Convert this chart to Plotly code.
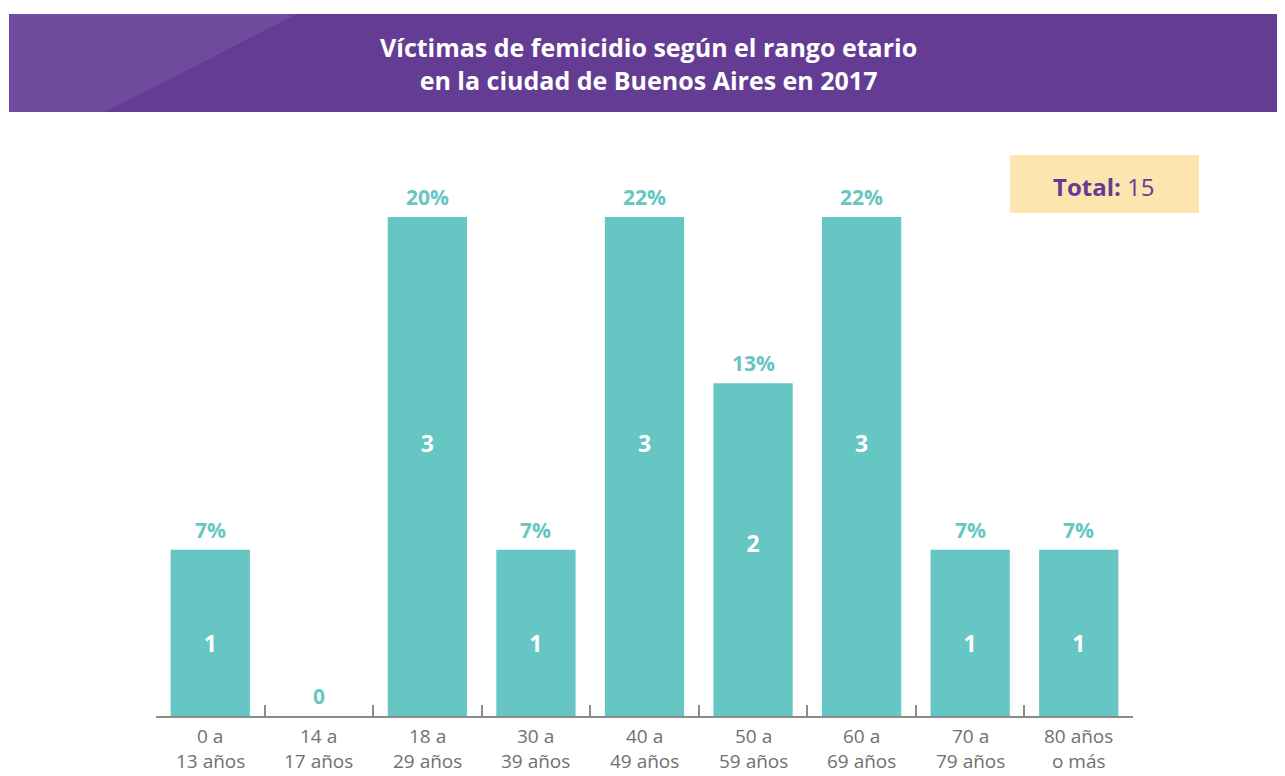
import plotly.graph_objects as go

categories = ["0-13", "14-17", "18-29", "30-39", "40-49", "50-59", "60-69", "70-79", "80+"]
label_line1 = ["0 a", "14 a", "18 a", "30 a", "40 a", "50 a", "60 a", "70 a", "80 años"]
label_line2 = ["13 años", "17 años", "29 años", "39 años", "49 años", "59 años", "69 años", "79 años", "o más"]
victims = [1, 0, 3, 1, 3, 2, 3, 1, 1]
pct_labels = ["7%", "0", "20%", "7%", "22%", "13%", "22%", "7%", "7%"]
total = 15

TEAL = "#66C6C3"
PURPLE = "#643C94"
PURPLE_LIGHT = "#6E4B9D"
GREY = "#707070"
AXIS = "#8C8C8C"
FONT = "Open Sans"

# the page body adds an 8px margin; compensate so the figure fills the window
OFF = 8
W, H = 1285 - OFF, 776 - OFF
ML, MR, MT, MB = 156 - OFF, 152, 150 - OFF, 60
PW, PH = W - ML - MR, H - MT - MB


def px(x):
    return (x - OFF - ML) / PW


def py(y):
    return 1 - (y - OFF - MT) / PH


fig = go.Figure()

fig.add_trace(go.Bar(
    x=categories, y=victims, marker=dict(color=TEAL, line=dict(width=0)),
    hoverinfo="skip", showlegend=False,
))

# numbers inside bars
inside_x = [c for c, v in zip(categories, victims) if v > 0]
inside_y = [v * 0.6 - 0.18 for v in victims if v > 0]
inside_t = [str(v) for v in victims if v > 0]
fig.add_trace(go.Scatter(
    x=inside_x, y=inside_y, text=inside_t, mode="text",
    textfont=dict(family=FONT, size=23, color="white", weight="bold"),
    hoverinfo="skip", showlegend=False,
))

# percentages above bars
for c, v, t in zip(categories, victims, pct_labels):
    fig.add_annotation(x=c, y=v, xref="x", yref="y", text=f"<b>{t}</b>", showarrow=False,
                       yanchor="middle", xanchor="center", yshift=20,
                       font=dict(family=FONT, size=21, color=TEAL))

# category labels (two lines)
for c, l1, l2 in zip(categories, label_line1, label_line2):
    fig.add_annotation(x=c, y=0, xref="x", yref="paper", text=l1, showarrow=False,
                       yanchor="middle", xanchor="center", yshift=-20,
                       font=dict(family=FONT, size=19, color=GREY))
    fig.add_annotation(x=c, y=0, xref="x", yref="paper", text=l2, showarrow=False,
                       yanchor="middle", xanchor="center", yshift=-45,
                       font=dict(family=FONT, size=19, color=GREY))

# banner
fig.add_shape(type="rect", xref="paper", yref="paper", x0=px(9), x1=px(1300), y0=py(112), y1=py(14),
              fillcolor=PURPLE, line=dict(width=0), layer="below")
fig.add_shape(type="path", xref="paper", yref="paper",
              path=f"M {px(9)} {py(14)} L {px(297)} {py(14)} L {px(105)} {py(112)} L {px(9)} {py(112)} Z",
              fillcolor=PURPLE_LIGHT, line=dict(width=0), layer="below")
fig.add_annotation(xref="paper", yref="paper", x=px(648), y=py(63), showarrow=False,
                   xanchor="center", yanchor="middle",
                   text="<b>Víctimas de femicidio según el rango etario<br>en la ciudad de Buenos Aires en 2017</b>",
                   font=dict(family=FONT, size=25, color="white"), align="center")

# total box
fig.add_shape(type="rect", xref="paper", yref="paper", x0=px(1010), x1=px(1199), y0=py(213), y1=py(155),
              fillcolor="#FCE5AE", line=dict(width=0), layer="below")
fig.add_annotation(xref="paper", yref="paper", x=px(1104), y=py(186), showarrow=False,
                   xanchor="center", yanchor="middle",
                   text=f"<b>Total:</b> {total}",
                   font=dict(family=FONT, size=24, color=PURPLE))

fig.update_layout(
    width=W, height=H,
    margin=dict(l=ML, r=MR, t=MT, b=MB),
    paper_bgcolor="white", plot_bgcolor="white",
    bargap=0.27,
    xaxis=dict(type="category", range=[-0.5, len(categories) - 0.5], showline=True,
               linecolor=AXIS, linewidth=1.5, ticks="", showticklabels=False,
               showgrid=False, zeroline=False, fixedrange=True),
    xaxis2=dict(overlaying="x", anchor="y", side="bottom", range=[-0.5, len(categories) - 0.5],
                tickvals=[i + 0.5 for i in range(len(categories) - 1)], ticks="inside", ticklen=11,
                tickwidth=1.5, tickcolor=AXIS, showticklabels=False, showgrid=False,
                zeroline=False, showline=False),
    yaxis=dict(range=[0, 3.403], visible=False, fixedrange=True),
)
fig.add_trace(go.Scatter(x=[0], y=[0], xaxis="x2", mode="markers", marker=dict(opacity=0),
                         hoverinfo="skip", showlegend=False))

fig.write_html("out.html")
